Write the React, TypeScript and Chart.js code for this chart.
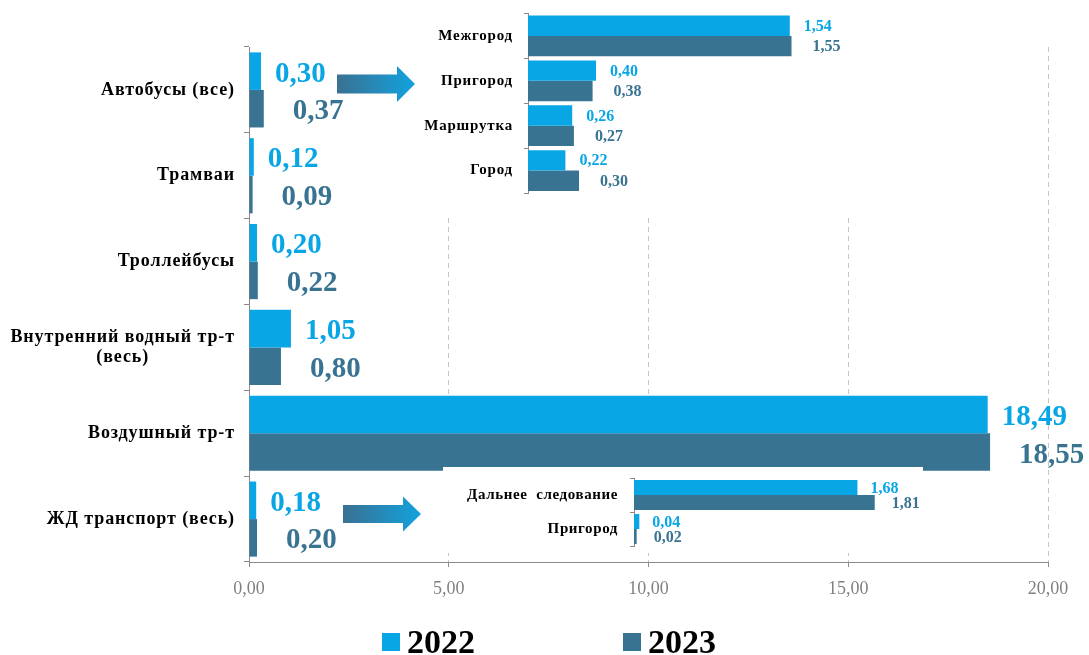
import React, { useEffect, useRef } from 'react';
import { Chart, registerables } from 'chart.js';

Chart.register(...registerables);

// ---------- data ----------
const categories: string[][] = [
  ['Автобусы (все)'],
  ['Трамваи'],
  ['Троллейбусы'],
  ['Внутренний водный тр-т', '(весь)'],
  ['Воздушный тр-т'],
  ['ЖД транспорт (весь)'],
];
const values2022 = [0.3, 0.12, 0.2, 1.05, 18.49, 0.18];
const values2023 = [0.37, 0.09, 0.22, 0.8, 18.55, 0.2];

const busCategories: string[][] = [['Межгород'], ['Пригород'], ['Маршрутка'], ['Город']];
const bus2022 = [1.54, 0.4, 0.26, 0.22];
const bus2023 = [1.55, 0.38, 0.27, 0.3];

const railCategories: string[][] = [['Дальнее  следование'], ['Пригород']];
const rail2022 = [1.68, 0.04];
const rail2023 = [1.81, 0.02];

const xTicks = [0, 5, 10, 15, 20];
const seriesLabels = ['2022', '2023'];

// ---------- style ----------
const SERIF = '"Times New Roman", "Liberation Serif", "DejaVu Serif", serif';
const C22 = '#08A6E5';
const C23 = '#387391';
const AXIS = '#8a8a8a';

const fmt = (v: number) => Number(v).toFixed(2).replace('.', ',');

const valueLabels = (font: number, offsets: number[], dy: number) => ({
  id: 'valueLabels',
  afterDatasetsDraw(chart: any) {
    const ctx = chart.ctx;
    ctx.save();
    ctx.font = `bold ${font}px ${SERIF}`;
    ctx.textBaseline = 'middle';
    ctx.textAlign = 'left';
    chart.data.datasets.forEach((ds: any, di: number) => {
      const meta = chart.getDatasetMeta(di);
      ctx.fillStyle = ds.backgroundColor;
      meta.data.forEach((el: any, i: number) => {
        ctx.fillText(fmt(ds.data[i]), el.x + offsets[di], el.y + dy);
      });
    });
    ctx.restore();
  },
});

const catLabels = (lines: string[][], font: number, spacing: number, rightX: number, lineH: number) => ({
  id: 'catLabels',
  afterDraw(chart: any) {
    const ctx = chart.ctx;
    const y = chart.scales.y;
    ctx.save();
    ctx.font = `bold ${font}px ${SERIF}`;
    ctx.fillStyle = '#000';
    ctx.textBaseline = 'middle';
    ctx.textAlign = 'center';
    try { (ctx as any).letterSpacing = spacing + 'px'; } catch (e) {}
    lines.forEach((ls, i) => {
      const cy = y.getPixelForValue(i);
      const widths = ls.map((l) => ctx.measureText(l).width);
      const maxW = Math.max(...widths);
      const cx = rightX - maxW / 2;
      ls.forEach((l, j) => ctx.fillText(l, cx, cy + (j - (ls.length - 1) / 2) * lineH));
    });
    ctx.restore();
  },
});

function drawArrow(ctx: CanvasRenderingContext2D, x0: number, xHead: number, xTip: number, yMid: number, shaftH: number, headH: number) {
  const g = ctx.createLinearGradient(x0, 0, xTip, 0);
  g.addColorStop(0, '#3A7192');
  g.addColorStop(1, '#12A2DE');
  ctx.fillStyle = g;
  ctx.beginPath();
  ctx.moveTo(x0, yMid - shaftH / 2);
  ctx.lineTo(xHead, yMid - shaftH / 2);
  ctx.lineTo(xHead, yMid - headH / 2);
  ctx.lineTo(xTip, yMid);
  ctx.lineTo(xHead, yMid + headH / 2);
  ctx.lineTo(xHead, yMid + shaftH / 2);
  ctx.lineTo(x0, yMid + shaftH / 2);
  ctx.closePath();
  ctx.fill();
}

const decorations = {
  id: 'decorations',
  afterDraw(chart: any) {
    const ctx = chart.ctx;
    ctx.save();
    drawArrow(ctx, 337, 397, 415, 84, 19, 36);
    drawArrow(ctx, 343, 403, 421, 514, 18, 35);
    // legend
    const items = [
      { x: 382, tx: 407, c: C22, t: seriesLabels[0] },
      { x: 623, tx: 648, c: C23, t: seriesLabels[1] },
    ];
    ctx.font = `bold 34px ${SERIF}`;
    ctx.textBaseline = 'alphabetic';
    ctx.textAlign = 'left';
    items.forEach((it) => {
      ctx.fillStyle = it.c;
      ctx.fillRect(it.x, 633, 18, 18);
      ctx.fillStyle = '#000';
      ctx.fillText(it.t, it.tx, 653);
    });
    ctx.restore();
  },
};

function insetConfig(opts: {
  cats: string[][]; d1: number[]; d2: number[]; max: number; yWidth: number;
  padding: any; catPct: number; valFont: number; offsets: number[]; catFont: number;
  catRight: number; spacing: number;
}) {
  return {
    type: 'bar',
    data: {
      labels: opts.cats.map((c) => c.join(' ')),
      datasets: [
        { label: seriesLabels[0], data: opts.d1, backgroundColor: C22, categoryPercentage: opts.catPct, barPercentage: 1 },
        { label: seriesLabels[1], data: opts.d2, backgroundColor: C23, categoryPercentage: opts.catPct, barPercentage: 1 },
      ],
    },
    options: {
      indexAxis: 'y',
      responsive: false,
      animation: false,
      layout: { padding: opts.padding },
      plugins: { legend: { display: false }, tooltip: { enabled: false } },
      scales: {
        x: { display: false, min: 0, max: opts.max },
        y: {
          grid: { offset: true, drawOnChartArea: false, tickLength: 4, color: AXIS },
          border: { color: AXIS },
          ticks: { display: false },
          afterFit: (s: any) => { s.width = opts.yWidth; },
        },
      },
    },
    plugins: [
      valueLabels(opts.valFont, opts.offsets, 1),
      catLabels(opts.cats, opts.catFont, opts.spacing, opts.catRight, 17),
    ],
  };
}

export default function App() {
  const mainRef = useRef<HTMLCanvasElement>(null);
  const busRef = useRef<HTMLCanvasElement>(null);
  const railRef = useRef<HTMLCanvasElement>(null);

  useEffect(() => {
    const main = new Chart(mainRef.current as any, {
      type: 'bar',
      data: {
        labels: categories.map((c) => c.join(' ')),
        datasets: [
          { label: seriesLabels[0], data: values2022, backgroundColor: C22, categoryPercentage: 0.875, barPercentage: 1 },
          { label: seriesLabels[1], data: values2023, backgroundColor: C23, categoryPercentage: 0.875, barPercentage: 1 },
        ],
      },
      options: {
        indexAxis: 'y',
        responsive: false,
        animation: false,
        layout: { padding: { left: 0, right: 41, top: 47, bottom: 53 } },
        plugins: { legend: { display: false }, tooltip: { enabled: false } },
        scales: {
          x: {
            min: 0,
            max: 20,
            afterBuildTicks: (s: any) => { s.ticks = xTicks.map((v) => ({ value: v })); },
            ticks: {
              callback: (v: any) => fmt(v),
              color: '#808080',
              font: { family: SERIF, size: 18 },
              padding: 11,
              maxRotation: 0,
            },
            grid: {
              color: (c: any) => (c.tick && c.tick.value === 0 ? 'rgba(0,0,0,0)' : '#c6c6c6'),
              tickColor: AXIS,
              tickLength: 5,
              tickBorderDash: [],
            },
            border: { color: AXIS, dash: [5, 4] },
            afterFit: (s: any) => { s.height = 40; },
          },
          y: {
            grid: { offset: true, drawOnChartArea: false, tickLength: 5, color: AXIS },
            border: { color: AXIS },
            ticks: { display: false },
            afterFit: (s: any) => { s.width = 249; },
          },
        },
      },
      plugins: [valueLabels(29, [14, 29], 3), catLabels(categories, 18, 0.9, 235, 20), decorations],
    } as any);

    const bus = new Chart(busRef.current as any, insetConfig({
      cats: busCategories, d1: bus2022, d2: bus2023, max: 2, yWidth: 110,
      padding: { left: 0, right: 32, top: 13.5, bottom: 25 }, catPct: 0.91,
      valFont: 16, offsets: [14, 21], catFont: 15, catRight: 95, spacing: 0.8,
    }) as any);

    const rail = new Chart(railRef.current as any, insetConfig({
      cats: railCategories, d1: rail2022, d2: rail2023, max: 2, yWidth: 191,
      padding: { left: 0, right: 23, top: 11, bottom: 7 }, catPct: 0.88,
      valFont: 16, offsets: [13, 17], catFont: 15, catRight: 175, spacing: 0.6,
    }) as any);

    return () => {
      main.destroy();
      bus.destroy();
      rail.destroy();
    };
  }, []);

  return (
    <div style={{ position: 'fixed', left: 0, top: 0, width: 1089, height: 655, background: '#fff', overflow: 'hidden' }}>
      <canvas ref={mainRef} width={1089} height={655} style={{ position: 'absolute', left: 0, top: 0 }} />
      <canvas ref={busRef} width={482} height={218} style={{ position: 'absolute', left: 418, top: 0, background: '#fff' }} />
      <canvas ref={railRef} width={480} height={86} style={{ position: 'absolute', left: 443, top: 467, background: '#fff' }} />
    </div>
  );
}
